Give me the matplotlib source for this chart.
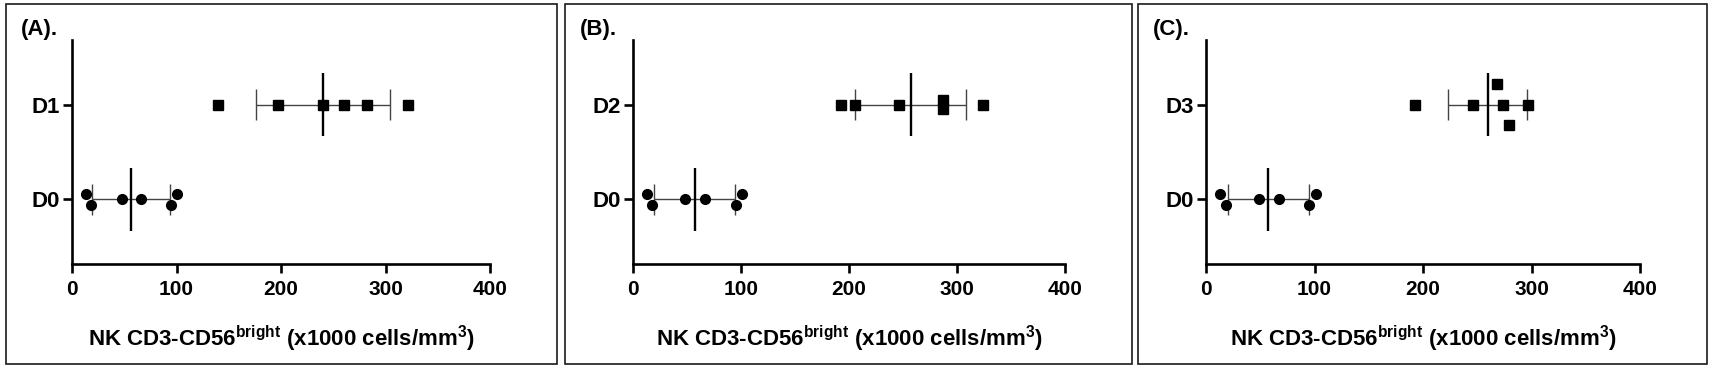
import numpy as np
import matplotlib
matplotlib.use("Agg")
import matplotlib.pyplot as plt
from matplotlib.patches import Rectangle

plt.rcParams['font.family'] = ['Liberation Sans', 'DejaVu Sans']
plt.rcParams['font.weight'] = 'bold'
plt.rcParams['mathtext.fontset'] = 'custom'
plt.rcParams['mathtext.rm'] = 'Liberation Sans:bold'
plt.rcParams['mathtext.bf'] = 'Liberation Sans:bold'

# data (x1000 cells/mm3)
panel_tags = ["(A).", "(B).", "(C)."]
day_labels = ["D1", "D2", "D3"]

d0_a = [13, 18, 48, 66, 95, 100]
d0_b = [13, 18, 48.5, 67, 95, 101]
d0_c = [13, 18.5, 49, 67.5, 95, 101]
d0_jitter = [0.06, -0.06, 0, 0, -0.06, 0.06]

dx_a = [140, 197, 240, 260, 282, 322]
dx_b = [193, 206, 246, 287, 287, 324]
dx_c = [193, 246, 268.5, 273.5, 279, 297]
dx_jit_a = [0, 0, 0, 0, 0, 0]
dx_jit_b = [0, 0, 0, 0.05, -0.05, 0]
dx_jit_c = [0, 0, 0.22, 0, -0.22, 0]

x_ticks = [0, 100, 200, 300, 400]

W, H = 1713, 370
fig = plt.figure(figsize=(W / 100, H / 100), dpi=100)

# panel boxes (px): left, right ; axes (px): left, right
boxes = [(6, 557), (565, 1132), (1138, 1707)]
axes_px = [(72, 490), (633, 1065), (1206, 1640)]
top_px, bot_px = 40, 264

panels = [
    (d0_a, dx_a, dx_jit_a),
    (d0_b, dx_b, dx_jit_b),
    (d0_c, dx_c, dx_jit_c),
]


def draw_group(ax, vals, jit, ypos, marker, ms):
    vals = np.asarray(vals, dtype=float)
    ax.plot(vals, ypos + np.asarray(jit), linestyle='none', marker=marker,
            ms=ms, color='black', zorder=3)
    m = vals.mean()
    sd = vals.std(ddof=1)
    ax.hlines(ypos, m - sd, m + sd, color='#444444', lw=1.0, zorder=2)
    ax.vlines([m - sd, m + sd], ypos - 0.16, ypos + 0.16, color='#444444', lw=1.0, zorder=2)
    ax.vlines(m, ypos - 0.33, ypos + 0.33, color='black', lw=1.7, zorder=4)


for i, (d0, dx, jit) in enumerate(panels):
    bl, br = boxes[i]
    fig.patches.append(Rectangle((bl / W, 1 - 364 / H), (br - bl) / W, 360 / H,
                                 transform=fig.transFigure, fill=False,
                                 edgecolor='#1a1a1a', lw=1.2))
    al, ar = axes_px[i]
    ax = fig.add_axes([al / W, 1 - bot_px / H, (ar - al) / W, (bot_px - top_px) / H])

    draw_group(ax, d0, d0_jitter, 0, 'o', 7)
    draw_group(ax, dx, jit, 1, 's', 6.5)

    ax.set_xlim(0, 400)
    ax.set_ylim(-0.68, 1.68)
    ax.set_xticks(x_ticks)
    ax.set_yticks([0, 1])
    ax.set_yticklabels(["D0", day_labels[i]])
    for s in ['top', 'right']:
        ax.spines[s].set_visible(False)
    for s in ['left', 'bottom']:
        ax.spines[s].set_linewidth(1.9)
    ax.tick_params(axis='both', width=1.9, length=6.5)
    ax.tick_params(axis='x', pad=5, labelsize=15)
    ax.tick_params(axis='y', pad=2, labelsize=16)
    ax.set_xlabel(r'NK CD3-CD56$^{\mathrm{bright}}$ (x1000 cells/mm$^{\mathrm{3}}$)',
                  fontsize=16, fontweight='bold', labelpad=18)
    fig.text((bl + 15) / W, 1 - 29 / H, panel_tags[i], fontsize=16,
             fontweight='bold', ha='left', va='center')

fig.savefig("out.png", dpi=100)
